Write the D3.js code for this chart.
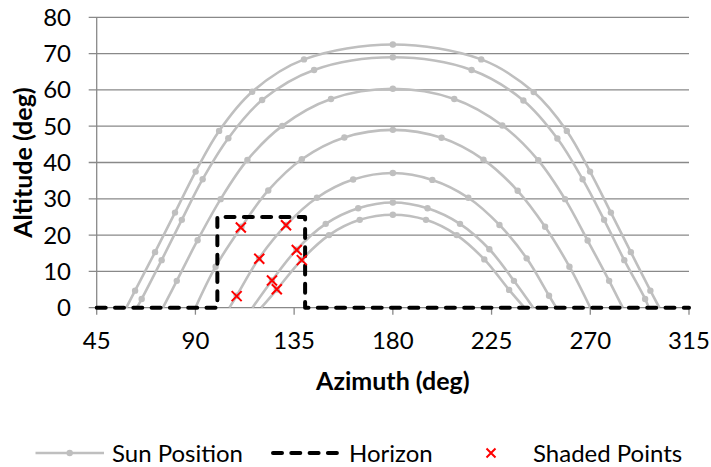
<!DOCTYPE html>
<html>
<head>
<meta charset="utf-8">
<script src="https://cdn.jsdelivr.net/npm/d3@7"></script>
<style>
  body { margin: 0; background: #fff; }
  text { font-family: Lato, "Open Sans", sans-serif; }
</style>
</head>
<body>
<div id="chart"></div>
<script>
// sun paths, [azimuth, altitude] (hourly points, plus sunrise/sunset at 0)
var sunJun = [[58.5,0],[62.5,4.7],[71.6,15.3],[80.7,26.2],[90.1,37.5],[100.8,48.7],[115.9,59.5],[139.5,68.4],[180,72.5],[220.3,68.4],[244.2,59.4],[259.3,48.7],[269.9,37.5],[279.4,26.2],[288.5,15.3],[297.4,4.7],[301.5,0]];
var sunMay = [[63.3,0],[65.5,2.4],[74.6,13.1],[83.8,24.2],[93.3,35.4],[105,46.7],[120.4,57.2],[144.1,65.5],[180,69],[215.9,65.5],[239.5,57.1],[255,46.6],[266.5,35.4],[276.3,24.2],[285.5,13.1],[295,2.4],[296.7,0]];
var sunApr = [[75.2,0],[81.5,7.4],[91,18.6],[101.5,29.9],[113.7,40.7],[129.6,50.1],[151.8,57.5],[180,60.3],[208,57.5],[229.9,50.2],[246.3,40.6],[258.5,29.9],[268.8,18.5],[278.6,7.4],[284.8,0]];
var sunMar = [[90,0],[99.2,11.3],[111,22.3],[123.2,32.3],[138.5,40.9],[157.9,46.9],[180,49],[202.2,46.8],[221.3,40.8],[236.9,32.2],[249.4,22.3],[260.5,11.3],[270,0]];
var sunFeb = [[105.5,0],[108.8,3.3],[119,13.6],[131.4,22.8],[145.4,30.3],[161.9,35.3],[180,37.1],[198,35.2],[214.4,30.3],[228.6,22.8],[241,13.6],[251.2,3.3],[254.5,0]];
var sunJan = [[116,0],[124.9,7.5],[136.1,16.0],[149.4,23.1],[164.2,27.4],[180,29],[195.8,27.4],[210.6,23.1],[224,16.1],[235.2,7.4],[244,0]];
var sunDec = [[120,0],[127.1,5.0],[138.4,13.2],[150.9,20],[164.9,24.2],[180,25.6],[195.1,24.2],[209.1,20],[221.7,13.3],[233,4.9],[240,0]];
var sunPaths = [sunJun, sunMay, sunApr, sunMar, sunFeb, sunJan, sunDec];

var horizon = [[45,0],[100,0],[100,25],[140,25],[140,0],[315,0]];

var shaded = [[108.8,3.2],[110.7,22.1],[119.1,13.5],[124.9,7.5],[127.1,5.1],[131.3,22.7],[136.2,15.9],[138.5,13.1]];

var xTicks = [45, 90, 135, 180, 225, 270, 315];
var yTicks = [0, 10, 20, 30, 40, 50, 60, 70, 80];

var width = 711, height = 467;
var margin = {left: 96.7, right: 22, top: 17.3, bottom: 159.3};
var gray = '#bfbfbf';
var gridColor = '#898989';
var labelSize = 24;

var svg = d3.select('#chart').append('svg')
   .attr('width', width)
   .attr('height', height);

var x = d3.scaleLinear().domain([45, 315]).range([margin.left, width - margin.right]);
var y = d3.scaleLinear().domain([0, 80]).range([height - margin.bottom, margin.top]);

// gridlines
svg.append('g')
   .selectAll('line')
   .data(yTicks)
   .enter().append('line')
   .attr('x1', x(45) - 8)
   .attr('x2', x(315))
   .attr('y1', function(d) { return y(d); })
   .attr('y2', function(d) { return y(d); })
   .attr('stroke', gridColor)
   .attr('stroke-width', 1.3);

// y axis line
svg.append('line')
   .attr('x1', x(45)).attr('x2', x(45))
   .attr('y1', y(0)).attr('y2', y(80))
   .attr('stroke', gridColor)
   .attr('stroke-width', 1.3);

// x ticks
svg.append('g')
   .selectAll('line')
   .data(xTicks)
   .enter().append('line')
   .attr('x1', function(d) { return x(d); })
   .attr('x2', function(d) { return x(d); })
   .attr('y1', y(0))
   .attr('y2', y(0) + 7)
   .attr('stroke', gridColor)
   .attr('stroke-width', 1.3);

svg.append('g')
   .selectAll('text')
   .data(yTicks)
   .enter().append('text')
   .attr('x', 71)
   .attr('y', function(d) { return y(d) + 8.5; })
   .attr('text-anchor', 'end')
   .attr('font-size', labelSize)
   .attr('fill', '#000')
   .text(function(d) { return d; });

svg.append('g')
   .selectAll('text')
   .data(xTicks)
   .enter().append('text')
   .attr('x', function(d) { return x(d); })
   .attr('y', 349)
   .attr('text-anchor', 'middle')
   .attr('font-size', labelSize)
   .attr('fill', '#000')
   .text(function(d) { return d; });

// axis titles
svg.append('text')
   .attr('transform', 'translate(32,' + (y(40)) + ') rotate(-90)')
   .attr('text-anchor', 'middle')
   .attr('font-size', 25)
   .attr('font-weight', 'bold')
   .text('Altitude (deg)');

svg.append('text')
   .attr('x', x(180))
   .attr('y', 390)
   .attr('text-anchor', 'middle')
   .attr('font-size', 25)
   .attr('font-weight', 'bold')
   .text('Azimuth (deg)');

// sun paths
var line = d3.line()
   .x(function(d) { return x(d[0]); })
   .y(function(d) { return y(d[1]); })
   .curve(d3.curveCatmullRom);

var paths = svg.append('g').attr('class', 'sun');

paths.selectAll('path')
   .data(sunPaths)
   .enter().append('path')
   .attr('d', line)
   .attr('fill', 'none')
   .attr('stroke', gray)
   .attr('stroke-width', 2.6);

paths.selectAll('g')
   .data(sunPaths)
   .enter().append('g')
   .selectAll('circle')
   .data(function(d) { return d.filter(function(p) { return p[1] > 0; }); })
   .enter().append('circle')
   .attr('cx', function(d) { return x(d[0]); })
   .attr('cy', function(d) { return y(d[1]); })
   .attr('r', 3.2)
   .attr('fill', gray);

// horizon
svg.append('path')
   .attr('d', d3.line().x(function(d) { return x(d[0]); }).y(function(d) { return y(d[1]); })(horizon))
   .attr('fill', 'none')
   .attr('stroke', '#000')
   .attr('stroke-width', 4)
   .attr('stroke-linecap', 'round')
   .attr('stroke-linejoin', 'round')
   .attr('stroke-dasharray', '9,9.3');

// shaded points
function cross(sel, s) {
   sel.append('path')
      .attr('d', 'M' + (-s) + ',' + (-s) + 'L' + s + ',' + s + 'M' + (-s) + ',' + s + 'L' + s + ',' + (-s))
      .attr('stroke', '#ff0000')
      .attr('stroke-width', 2)
      .attr('fill', 'none');
}

svg.append('g')
   .selectAll('g')
   .data(shaded)
   .enter().append('g')
   .attr('transform', function(d) { return 'translate(' + x(d[0]) + ',' + y(d[1]) + ')'; })
   .call(cross, 5);

// legend
var ly = 453;
var legend = svg.append('g').attr('class', 'legend');

legend.append('line')
   .attr('x1', 35.5).attr('x2', 104)
   .attr('y1', ly).attr('y2', ly)
   .attr('stroke', gray)
   .attr('stroke-width', 2.6);
legend.append('circle')
   .attr('cx', 69.7).attr('cy', ly)
   .attr('r', 3.2)
   .attr('fill', gray);
legend.append('text')
   .attr('x', 112).attr('y', ly + 8.5)
   .attr('font-size', labelSize)
   .text('Sun Position');

legend.append('line')
   .attr('x1', 273).attr('x2', 338)
   .attr('y1', ly).attr('y2', ly)
   .attr('stroke', '#000')
   .attr('stroke-width', 4)
   .attr('stroke-linecap', 'round')
   .attr('stroke-dasharray', '9,9.3');
legend.append('text')
   .attr('x', 349).attr('y', ly + 8.5)
   .attr('font-size', labelSize)
   .text('Horizon');

legend.append('g')
   .attr('transform', 'translate(491,' + ly + ')')
   .call(cross, 4.5);
legend.append('text')
   .attr('x', 533).attr('y', ly + 8.5)
   .attr('font-size', labelSize)
   .text('Shaded Points');
</script>
</body>
</html>
